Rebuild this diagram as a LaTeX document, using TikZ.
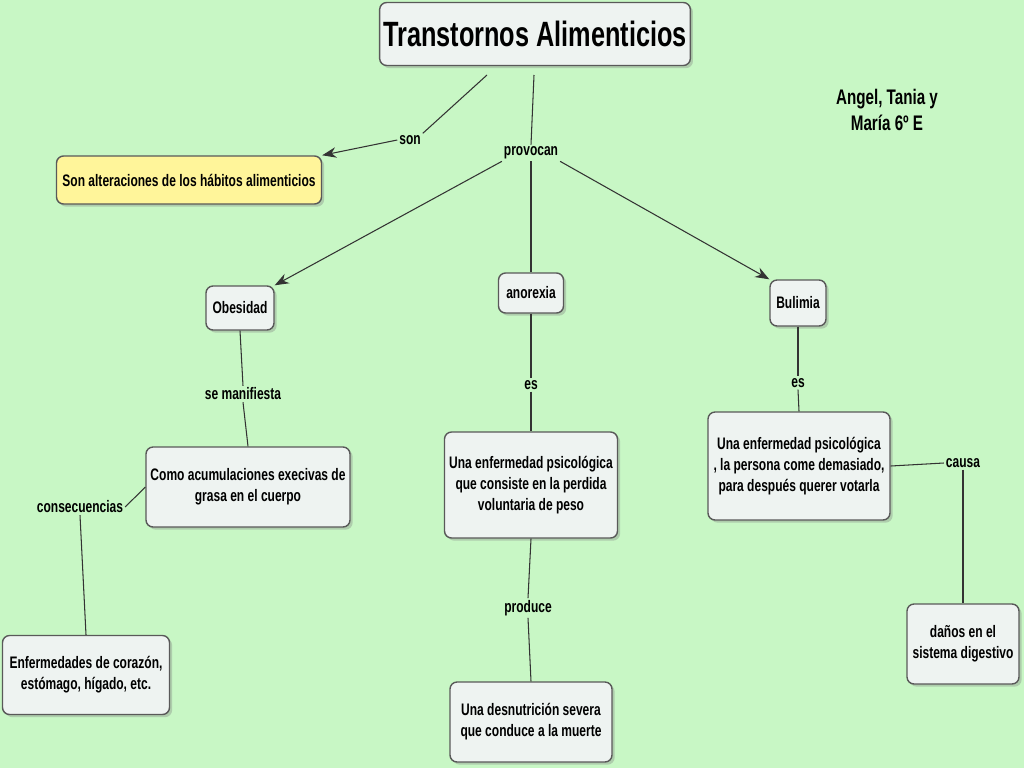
\documentclass[tikz,border=0pt]{standalone}
\usepackage{fontspec}
\setmainfont{Liberation Sans}[FakeStretch=0.72]
\usetikzlibrary{arrows.meta,shadows}
\newdimen\pxu \pxu=0.02cm
\definecolor{bg}{HTML}{C8F7C5}
\definecolor{boxf}{HTML}{EEF3F1}
\definecolor{yel}{HTML}{FFF59A}
\tikzset{
 box/.style={draw=gray!70!black,fill=boxf,rounded corners=4pt,line width=0.8pt,align=center,inner sep=2pt,font=\bfseries\fontsize{9.5}{12}\selectfont,drop shadow={opacity=0.35,shadow xshift=1.5pt,shadow yshift=-1.5pt}},
 lab/.style={font=\bfseries\fontsize{9.5}{12}\selectfont,inner sep=1pt},
 ln/.style={draw=black!80,line width=0.6pt},
 ar/.style={ln,-{Stealth[length=8pt,width=6pt]}}
}
\begin{document}
\begin{tikzpicture}[x=0.02cm,y=-0.02cm]
\fill[bg] (0,0) rectangle (1024,768);
\useasboundingbox (0,0) rectangle (1024,768);
\node[box,minimum width=296\pxu,minimum height=63\pxu,font=\bfseries\fontsize{20}{24}\selectfont] (t) at (535,34) {Transtornos Alimenticios};
\node[box,fill=yel,minimum width=265\pxu,minimum height=48\pxu] (s) at (189,180) {Son alteraciones de los hábitos alimenticios};
\node[lab] (son) at (410,140) {son};
\node[lab] (prov) at (531,153) {provocan};
\node[box,minimum width=68\pxu,minimum height=44\pxu] (ob) at (240,308) {Obesidad};
\node[box,minimum width=65\pxu,minimum height=40\pxu] (an) at (531,293) {anorexia};
\node[box,minimum width=56\pxu,minimum height=46\pxu] (bu) at (798,303) {Bulimia};
\node[lab] (sm) at (243,394) {se manifiesta};
\node[lab] (es1) at (531,385) {es};
\node[lab] (es2) at (798,383) {es};
\node[box,minimum width=204\pxu,minimum height=80\pxu] (co) at (248,487) {Como acumulaciones execivas de\\grasa en el cuerpo};
\node[box,minimum width=173\pxu,minimum height=106\pxu] (ae) at (531,485) {Una enfermedad psicológica\\que consiste en la perdida\\voluntaria de peso};
\node[box,minimum width=182\pxu,minimum height=108\pxu] (be) at (799,466) {Una enfermedad psicológica\\, la persona come demasiado,\\para después querer votarla};
\node[lab] (cons) at (80,507) {consecuencias};
\node[lab] (prod) at (528,608) {produce};
\node[lab] (cau) at (963,463) {causa};
\node[box,minimum width=167\pxu,minimum height=79\pxu] (en) at (86,675) {Enfermedades de corazón,\\estómago, hígado, etc.};
\node[box,minimum width=162\pxu,minimum height=80\pxu] (de) at (531,722) {Una desnutrición severa\\que conduce a la muerte};
\node[box,minimum width=112\pxu,minimum height=80\pxu] (da) at (963,644) {daños en el\\sistema digestivo};
\node[font=\bfseries\fontsize{12}{15}\selectfont,align=center] (au) at (887,110) {Angel, Tania y\\María 6º E};
\coordinate (t1) at (487,75);
\coordinate (t2) at (534,75);
\draw[ln] (t1) -- (son.north east);
\draw[ar] (son.west) -- (s.north east);
\draw[ln] (t2) -- (prov.north);
\draw[ar] (prov.south west) -- (ob.north east);
\draw[ln] (prov.south) -- (an.north);
\draw[ar] (prov.south east) -- (bu.north west);
\draw[ln] (ob.south) -- (sm.north);
\draw[ln] (sm.south) -- (co.north);
\draw[ln] (an.south) -- (es1.north);
\draw[ln] (es1.south) -- (ae.north);
\draw[ln] (bu.south) -- (es2.north);
\draw[ln] (es2.south) -- (be.north);
\draw[ln] (co.west) -- (cons.east);
\draw[ln] (cons.south) -- (en.north);
\draw[ln] (ae.south) -- (prod.north);
\draw[ln] (prod.south) -- (de.north);
\draw[ln] (be.east) -- (cau.west);
\draw[ln] (cau.south) -- (da.north);
\end{tikzpicture}
\end{document}
